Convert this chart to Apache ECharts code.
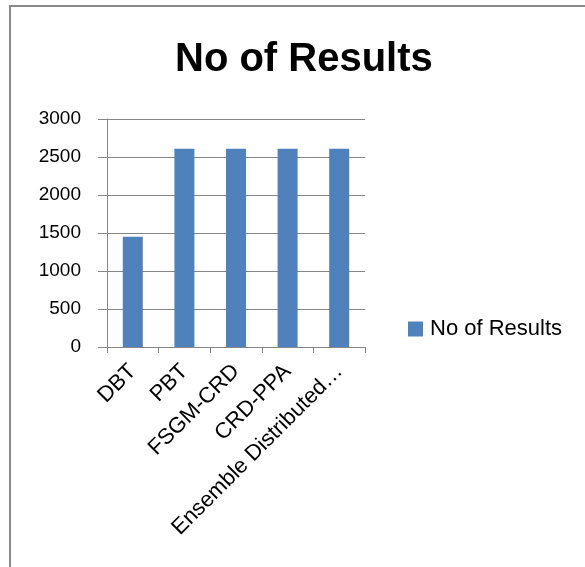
<!DOCTYPE html>
<html>
<head>
<meta charset="utf-8">
<script src="https://cdn.jsdelivr.net/npm/echarts@6/dist/echarts.min.js"></script>
<style>
  html, body { margin: 0; padding: 0; background: #fff; }
  #chart { width: 585px; height: 567px; }
</style>
</head>
<body>
<div id="chart"></div>
<script>
// values
const categories = ['DBT', 'PBT', 'FSGM-CRD', 'CRD-PPA', 'Ensemble Distributed…']
const results = [1450, 2610, 2610, 2610, 2610]
const yTicks = [0, 500, 1000, 1500, 2000, 2500, 3000]

const chart = echarts.init(document.getElementById('chart'))
const font = 'Liberation Sans'

chart.setOption({
  animation: false,
  // outer frame of the chart area (only left/top edges are in view)
  graphic: [{
    type: 'rect',
    shape: { x: 10, y: 6, width: 700, height: 700 },
    style: { fill: 'none', stroke: '#8a8a8a', lineWidth: 2 }
  }],
  title: {
    text: 'No of Results',
    left: 175,
    top: 40,
    padding: 0,
    textStyle: {
      fontFamily: font,
      fontWeight: 'bold',
      fontSize: 40,
      color: '#000'
    }
  },
  legend: {
    left: 408,
    top: 318,
    padding: 0,
    itemWidth: 15,
    itemHeight: 15,
    icon: 'rect',
    textStyle: { fontFamily: font, fontSize: 22, color: '#000', padding: [0, 0, 0, 2] },
    data: ['No of Results']
  },
  grid: {
    left: 107,
    right: 220,
    top: 119,
    bottom: 220,
    containLabel: false
  },
  xAxis: {
    type: 'category',
    data: categories,
    axisLine: { lineStyle: { color: '#868686', width: 1 } },
    axisTick: { show: true, length: 6, lineStyle: { color: '#868686' } },
    axisLabel: {
      rotate: 45,
      margin: 21,
      interval: 0,
      color: '#000',
      fontFamily: font,
      fontSize: 22
    }
  },
  yAxis: {
    type: 'value',
    min: 0,
    max: 3000,
    interval: 500,
    axisLine: { show: true, lineStyle: { color: '#868686', width: 1 } },
    axisTick: { show: true, length: 9, lineStyle: { color: '#868686' } },
    splitLine: { lineStyle: { color: '#868686', width: 1 } },
    axisLabel: {
      margin: 26,
      color: '#000',
      fontFamily: font,
      fontSize: 19,
      formatter: function (v) { return yTicks.indexOf(v) >= 0 ? String(v) : '' }
    }
  },
  series: [{
    name: 'No of Results',
    type: 'bar',
    barWidth: 20,
    data: results,
    itemStyle: { color: '#4f81bd' }
  }]
})
</script>
</body>
</html>
